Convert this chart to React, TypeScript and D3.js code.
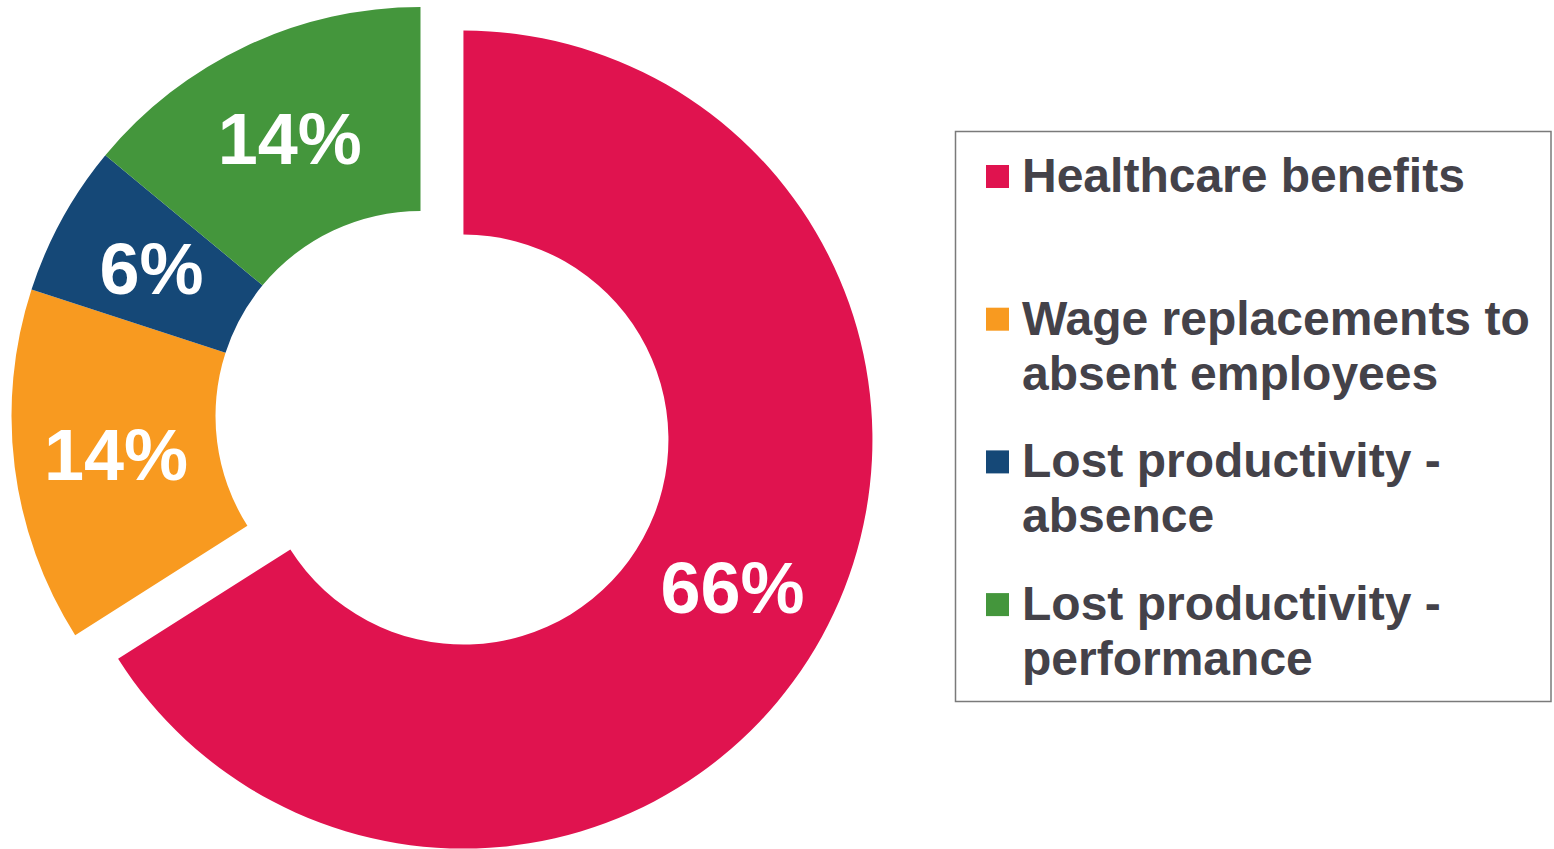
import React, { useEffect, useRef } from "react";
import * as d3 from "d3";

const categories = [
  "Healthcare benefits",
  "Wage replacements to absent employees",
  "Lost productivity - absence",
  "Lost productivity - performance",
];
const values = [66, 14, 6, 14];
const valueLabels = ["66%", "14%", "6%", "14%"];
const legendLines = [
  ["Healthcare benefits"],
  ["Wage replacements to", "absent employees"],
  ["Lost productivity -", "absence"],
  ["Lost productivity -", "performance"],
];
const colors = ["#E0134F", "#F89A20", "#154877", "#44963C"];

const App = () => {
  const ref = useRef<SVGSVGElement>(null);

  useEffect(() => {
    drawChart();
  }, []);

  const drawChart = () => {
    const w = 1554;
    const h = 849;
    const cx = 420.5; // centre of the un-exploded slices
    const cy = 416;
    const outerR = 409;
    const innerR = 205;
    const explode = 49;

    const svg = d3.select(ref.current);
    svg.selectAll("*").remove();
    svg.attr("width", w).attr("height", h);

    const pie = d3.pie<number>().sort(null).value((d) => d);
    const arcs = pie(values);
    const arc = d3.arc<d3.PieArcDatum<number>>().innerRadius(innerR).outerRadius(outerR);

    const g = svg.append("g").attr("transform", `translate(${cx},${cy})`);

    const slice = g
      .selectAll("g.slice")
      .data(arcs)
      .enter()
      .append("g")
      .attr("class", "slice")
      .attr("transform", (d, i) => {
        if (i !== 0) return null;
        const mid = (d.startAngle + d.endAngle) / 2;
        return `translate(${Math.sin(mid) * explode},${-Math.cos(mid) * explode})`;
      });

    slice
      .append("path")
      .attr("d", arc)
      .attr("fill", (d, i) => colors[i]);

    slice
      .append("text")
      .text((d, i) => valueLabels[i])
      .attr("x", (d) => arc.centroid(d)[0])
      .attr("y", (d) => arc.centroid(d)[1])
      .attr("dy", "0.36em")
      .attr("text-anchor", "middle")
      .attr("font-family", "'Liberation Sans', Arial, sans-serif")
      .attr("font-weight", "bold")
      .attr("font-size", "72px")
      .attr("fill", "#ffffff");

    // legend
    const legend = svg.append("g");
    legend
      .append("rect")
      .attr("x", 955.5)
      .attr("y", 131.5)
      .attr("width", 595.5)
      .attr("height", 570)
      .attr("fill", "none")
      .attr("stroke", "#7a7a7a")
      .attr("stroke-width", 1.5);

    const item = legend
      .selectAll("g.item")
      .data(categories)
      .enter()
      .append("g")
      .attr("class", "item")
      .attr("transform", (d, i) => `translate(0,${192 + i * 142.7})`);

    item
      .append("rect")
      .attr("x", 986)
      .attr("y", -27)
      .attr("width", 23)
      .attr("height", 23)
      .attr("fill", (d, i) => colors[i]);

    item
      .append("text")
      .attr("font-family", "'Liberation Sans', Arial, sans-serif")
      .attr("font-weight", "bold")
      .attr("font-size", "48px")
      .attr("fill", "#444249")
      .selectAll("tspan")
      .data((d, i) => legendLines[i])
      .enter()
      .append("tspan")
      .attr("x", 1022)
      .attr("y", (d, j) => j * 55)
      .text((d) => d);
  };

  return (
    <div style={{ position: "absolute", left: 0, top: 0 }}>
      <svg ref={ref} style={{ display: "block" }}></svg>
    </div>
  );
};

export default App;
